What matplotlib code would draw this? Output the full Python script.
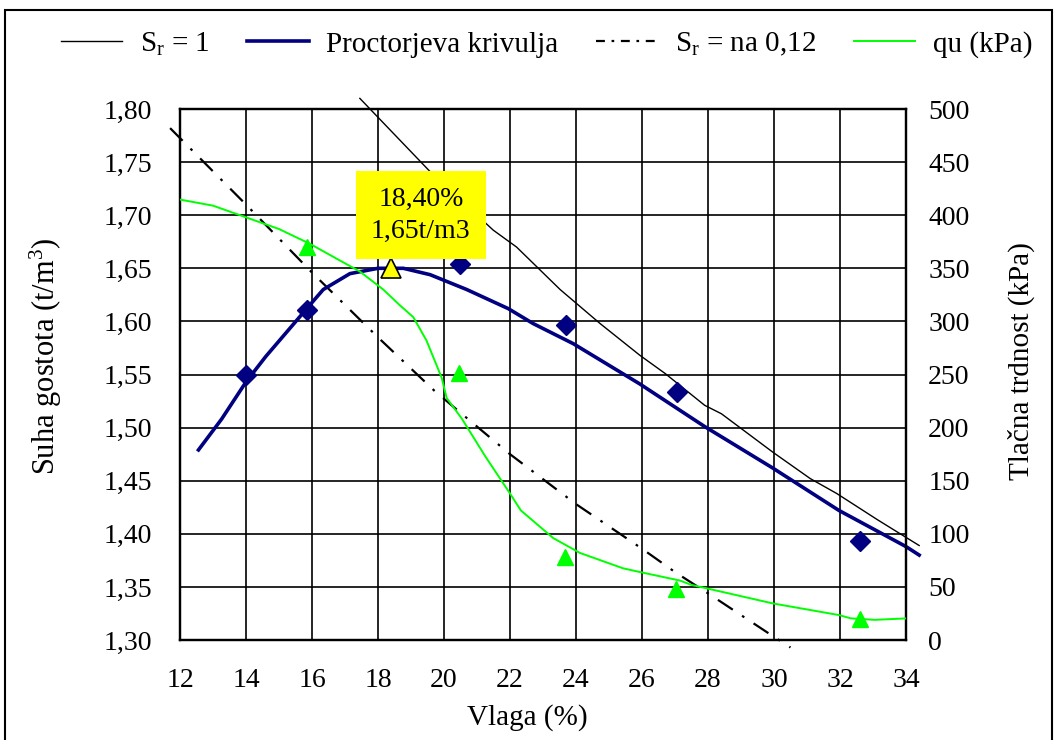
import matplotlib.pyplot as plt
from matplotlib.patches import Rectangle

plt.rcParams['font.family'] = ['Liberation Serif', 'DejaVu Serif']
plt.rcParams['mathtext.fontset'] = 'custom'
plt.rcParams['mathtext.rm'] = 'Liberation Serif'
plt.rcParams['mathtext.it'] = 'Liberation Serif:italic'

# measured points (vlaga %, suha gostota t/m3)
meritve_w = [14.0, 15.85, 20.5, 23.7, 27.05, 32.6]
meritve_gd = [1.550, 1.611, 1.654, 1.597, 1.534, 1.393]

# Proctorjeva krivulja
proctor_w = [12.56, 13.26, 14.0, 14.6, 15.84, 16.34, 17.15, 18.0, 18.77, 19.58,
             20.69, 21.95, 22.7, 23.92, 25.94, 27.9, 29.96, 31.97, 34.0, 34.4]
proctor_gd = [1.479, 1.508, 1.543, 1.567, 1.612, 1.630, 1.645, 1.650, 1.650, 1.644,
              1.630, 1.612, 1.598, 1.579, 1.541, 1.501, 1.462, 1.422, 1.388, 1.380]

# Sr = 1
sr1_w = [17.45, 19.58, 21.49, 22.2, 23.52, 24.73, 25.94, 26.7, 27.9, 28.41,
         29.96, 31.1, 31.9, 33.15, 34.4]
sr1_gd = [1.810, 1.741, 1.686, 1.670, 1.630, 1.598, 1.568, 1.551, 1.521, 1.513,
          1.477, 1.452, 1.438, 1.413, 1.389]

# Sr = na 0,12
sr2_w = [11.7, 14.0, 16.0, 18.0, 19.7, 20.5, 22.0, 24.0, 26.0, 27.0, 28.0, 30.0, 30.5]
sr2_gd = [1.782, 1.710, 1.646, 1.585, 1.535, 1.514, 1.475, 1.428, 1.386, 1.364,
          1.344, 1.303, 1.293]

# tlacna trdnost qu (kPa)
qu_w = [11.95, 13.0, 14.0, 15.0, 15.94, 16.75, 17.45, 18.16, 18.67, 19.07, 19.47,
        19.93, 20.08, 20.55, 21.25, 22.0, 22.33, 23.31, 24.12, 25.43, 25.94, 27.15,
        27.49, 29.96, 31.97, 32.33, 33.05, 34.03]
qu_kpa = [415, 409, 398, 387, 373, 359, 347, 330, 315, 304, 282,
          247, 228, 208, 173, 138, 122, 96, 82, 67.5, 64, 56,
          52, 34.5, 23.5, 20.4, 19, 20.4]
qu_tocke_w = [15.85, 20.45, 23.67, 27.02, 32.62]
qu_tocke = [370, 251, 78, 48, 20]

opt_w = 18.40
opt_gd = 1.65

x_ticks = list(range(12, 35, 2))
y_ticks = [1.30, 1.35, 1.40, 1.45, 1.50, 1.55, 1.60, 1.65, 1.70, 1.75, 1.80]
y2_ticks = list(range(0, 501, 50))

fig = plt.figure(figsize=(10.57, 7.40), dpi=100)
ax = fig.add_axes([0.1703, 0.1351, 0.6868, 0.7176])

ax.plot(sr1_w, sr1_gd, color='black', lw=1.0, clip_on=False, zorder=3)
ax.plot(proctor_w, proctor_gd, color='#000080', lw=2.6, clip_on=False, zorder=4)
ax.plot(sr2_w, sr2_gd, color='black', lw=1.6, linestyle=(0, (8, 5, 1.2, 5)),
        clip_on=False, zorder=3)
ax.plot(meritve_w, meritve_gd, linestyle='none', marker='D', ms=10,
        color='#000080', zorder=5)
ax.plot([opt_w], [opt_gd], linestyle='none', marker='^', ms=14,
        markerfacecolor='#ffff00', markeredgecolor='black', markeredgewidth=1.2,
        zorder=6)

ax.set_xlim(12, 34)
ax.set_ylim(1.30, 1.80)
ax.set_xticks(x_ticks)
ax.set_yticks(y_ticks)
ax.set_yticklabels([f"{v:.2f}".replace('.', ',') for v in y_ticks])
ax.grid(True, color='black', lw=1.2)
ax.set_axisbelow(True)
ax.tick_params(axis='both', length=0, labelsize=20)
ax.tick_params(axis='y', pad=20)
ax.tick_params(axis='x', pad=20)
for s in ax.spines.values():
    s.set_linewidth(1.6)

ax.set_xlabel("Vlaga (%)", fontsize=21)
ax.xaxis.set_label_coords(0.478, -0.12)
ax.set_ylabel("Suha gostota (t/m$^3$)", fontsize=22)
ax.yaxis.set_label_coords(-0.16, 0.535)

ax2 = ax.twinx()
ax2.plot(qu_w, qu_kpa, color='#00ff00', lw=1.4, zorder=3)
ax2.plot(qu_tocke_w, qu_tocke, linestyle='none', marker='^', ms=12,
         color='#00ff00', zorder=4)
ax2.set_ylim(0, 500)
ax2.set_yticks(y2_ticks)
ax2.tick_params(axis='y', length=0, labelsize=20, pad=16)
for s in ax2.spines.values():
    s.set_linewidth(1.6)
ax2.set_ylabel("Tlačna trdnost (kPa)", fontsize=21)
ax2.yaxis.set_label_coords(1.14, 0.525)

ax2.text(19.3, 1.70, "18,40%\n1,65t/m3", transform=ax.transData,
         ha='center', va='center', fontsize=20, linespacing=1.4,
         bbox=dict(boxstyle='square,pad=0.55', facecolor='#ffff00', edgecolor='none'),
         zorder=10)

h1, = ax.plot([], [], color='black', lw=1.0)
h2, = ax.plot([], [], color='#000080', lw=2.6)
h3, = ax.plot([], [], color='black', lw=1.6, linestyle=(0, (4, 3, 1.2, 3)))
h4, = ax.plot([], [], color='#00ff00', lw=1.4)
fig.legend([h1, h2, h3, h4],
           ["S$_\\mathrm{r}$ = 1", "Proctorjeva krivulja",
            "S$_\\mathrm{r}$ = na 0,12", "qu (kPa)"],
           loc='center', bbox_to_anchor=(0.517, 0.94), ncol=4, frameon=False,
           fontsize=21, handlelength=2.1, handletextpad=0.6, columnspacing=1.3)

# outer frame
fig.patches.append(Rectangle((0.005, -0.05), 0.99, 1.036, transform=fig.transFigure,
                             fill=False, edgecolor='black', lw=1.5))

fig.savefig("out.png", dpi=100)
